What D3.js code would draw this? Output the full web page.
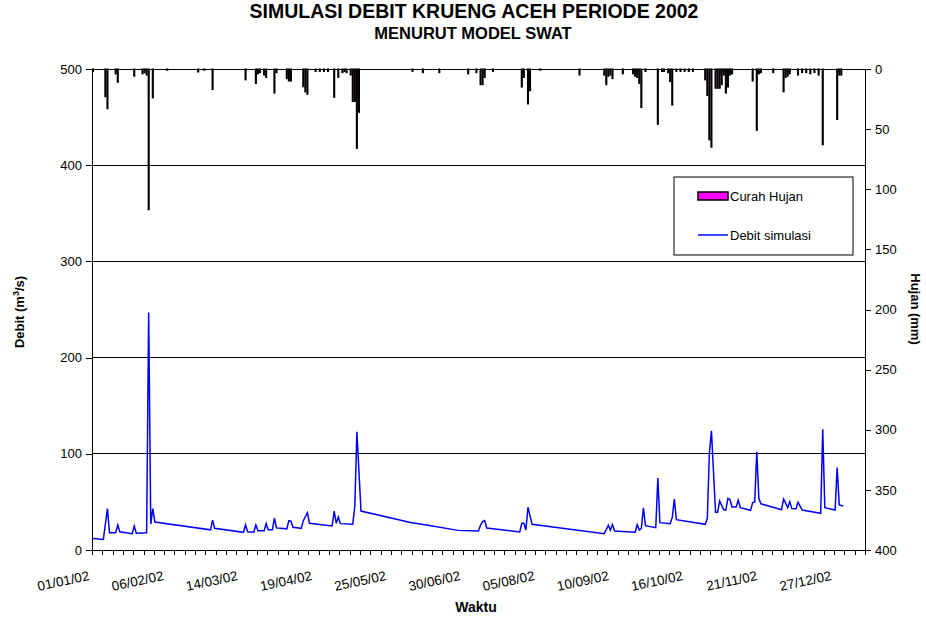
<!DOCTYPE html>
<html>
<head>
<meta charset="utf-8">
<script src="https://cdn.jsdelivr.net/npm/d3@7"></script>
<style>
  body { margin: 0; background: #fff; }
  svg text { font-family: "Liberation Sans", Arial, sans-serif; fill: #000; }
</style>
</head>
<body>
<svg id="chart" width="926" height="620"></svg>
<script>
// simulated discharge (m3/s), breakpoints: day index from 01/01/02
var debitDay = [0, 5, 7, 8, 11, 12, 13, 19, 20, 21, 26, 27, 28, 29, 30, 57, 58, 59,
  73, 74, 75, 78, 79, 80, 83, 84, 85, 87, 88, 89, 94, 95, 96, 97, 101, 102, 104, 105,
  116, 117, 118, 119, 120, 126, 127, 128, 130, 154, 164, 177, 187, 188, 189, 190, 191,
  207, 208, 209, 210, 211, 213, 248, 250, 251, 252, 253, 263, 264, 265, 266, 267, 268,
  273, 274, 275, 280, 281, 282, 283, 297, 298, 299, 300, 302, 303, 304, 306, 307, 308,
  309, 310, 312, 313, 314, 319, 320, 321, 322, 323, 324, 334, 335, 337, 338, 339, 341,
  342, 344, 353, 354, 355, 360, 361, 362, 364];
var debitValue = [12, 11, 43, 18, 18, 26, 19, 17, 25, 17.5, 18, 247, 27, 43, 29, 21, 31, 22.5,
  18.4, 26, 19, 18.4, 26, 20, 20, 27.4, 21, 21, 33, 23, 22, 30.5, 30, 23.6, 22.5, 30.5, 38.8, 27.7,
  25, 40.5, 27.7, 34.3, 27.4, 26.7, 45.7, 123, 40.5, 28.7, 25.3, 20.4, 19.7, 26, 29.5, 30.5, 22.9,
  18.7, 27.7, 27.7, 20.8, 44.4, 26.7, 17, 25.7, 20.5, 26.4, 19.7, 18.4, 26.4, 20.8, 22.5, 43.7, 25.3,
  23.2, 74.8, 28.4, 27.4, 33.9, 53, 31.5, 26.7, 33, 100.5, 124, 39.2, 39.2, 51, 41.6, 41.6, 53.7,
  52.5, 44.7, 44.7, 51.7, 44, 41.3, 49.2, 50, 102, 53.7, 48, 41.9, 53, 44, 50.2, 43, 42.8,
  49.6, 41.6, 38.1, 125.5, 44, 41.6, 85.6, 46.8, 45.7];

// daily rainfall (mm), only the days with rain
var hujanDay = [0, 6, 7, 11, 12, 20, 24, 25, 26, 27, 29, 36, 51, 54, 58, 74, 79, 80, 81, 83, 84,
  88, 89, 94, 95, 96, 102, 103, 104, 108, 110, 112, 114, 117, 119, 121, 122, 123, 125, 126, 127,
  128, 129, 155, 160, 168, 182, 186, 188, 189, 190, 194, 208, 209, 211, 212, 217, 236, 248, 249,
  250, 251, 252, 257, 262, 263, 264, 265, 266, 268, 274, 276, 277, 279, 280, 281, 283, 285, 287,
  289, 291, 297, 298, 299, 300, 302, 303, 304, 305, 306, 307, 308, 309, 310, 320, 322, 323, 324,
  330, 335, 336, 337, 338, 342, 344, 346, 348, 350, 352, 354, 361, 362, 363];
var hujanValue = [2, 23, 33, 4, 11, 6, 4, 3, 5, 117, 24, 1, 2.5, 1, 17, 9, 12, 4, 3, 5, 7,
  20, 3, 8, 10, 10, 14.7, 19, 21, 2, 2, 2, 2, 23.5, 7, 3, 2, 3, 5, 27, 27,
  66, 36, 2, 3, 3, 4, 3, 13, 13, 7, 2, 15, 7, 29, 18, 1, 5, 5, 13,
  6, 5, 8, 4, 4, 6, 7, 12, 32, 2, 46, 2, 2, 3, 10.5, 30, 2, 2, 2,
  2, 2, 9, 22, 59, 65, 16, 16, 16, 13, 5, 20, 15, 5, 4, 10, 51, 4, 3,
  3, 19, 7, 6, 4, 5, 3, 3, 4, 3, 5, 63, 42, 5, 5];

var dateLabels = ["01/01/02", "06/02/02", "14/03/02", "19/04/02", "25/05/02", "30/06/02",
  "05/08/02", "10/09/02", "16/10/02", "21/11/02", "27/12/02"];
var labelEvery = 36;
var debitTicks = [0, 100, 200, 300, 400, 500];
var hujanTicks = [0, 50, 100, 150, 200, 250, 300, 350, 400];

var plotLeft = 92, plotRight = 865, plotTop = 69, plotBottom = 550;
var svg = d3.select("#chart");

var x = d3.scaleLinear().domain([0, 375]).range([plotLeft, plotRight]);
var yL = d3.scaleLinear().domain([0, 500]).range([plotBottom, plotTop]);
var yR = d3.scaleLinear().domain([0, 400]).range([plotTop, plotBottom]);

// titles
svg.append("text").attr("x", 474).attr("y", 18).attr("text-anchor", "middle")
  .style("font-size", "19.5px").style("font-weight", "bold")
  .text("SIMULASI DEBIT KRUENG ACEH PERIODE 2002");
svg.append("text").attr("x", 473).attr("y", 39).attr("text-anchor", "middle")
  .style("font-size", "16.5px").style("font-weight", "bold")
  .text("MENURUT MODEL SWAT");

// gridlines
svg.append("g").selectAll("line").data(debitTicks.slice(1)).enter().append("line")
  .attr("x1", plotLeft).attr("x2", plotRight)
  .attr("y1", function (d) { return yL(d); }).attr("y2", function (d) { return yL(d); })
  .attr("stroke", "#000").attr("stroke-width", 1).attr("shape-rendering", "crispEdges");

// rain bars hanging from the top (so thin that only the black border shows)
svg.append("g").selectAll("rect").data(hujanDay).enter().append("rect")
  .attr("x", function (d) { return x(d + 0.5) - 0.5; })
  .attr("y", plotTop)
  .attr("width", 1)
  .attr("height", function (d, i) { return yR(hujanValue[i]) - plotTop; })
  .attr("fill", "#ff00ff").attr("stroke", "#000").attr("stroke-width", 1.1);

// discharge line
var line = d3.line()
  .x(function (d, i) { return x(d + 0.5); })
  .y(function (d, i) { return yL(debitValue[i]); });
svg.append("path").datum(debitDay).attr("d", line)
  .attr("fill", "none").attr("stroke", "#0000ff").attr("stroke-width", 1.5);

// axes
var axL = svg.append("g").attr("transform", "translate(" + plotLeft + ",0)")
  .call(d3.axisLeft(yL).tickValues(debitTicks).tickSize(6).tickSizeOuter(0).tickPadding(4));
var axR = svg.append("g").attr("transform", "translate(" + plotRight + ",0)")
  .call(d3.axisRight(yR).tickValues(hujanTicks).tickSize(6).tickSizeOuter(0).tickPadding(4));
var axB = svg.append("g").attr("transform", "translate(0," + plotBottom + ")")
  .call(d3.axisBottom(x).tickValues(d3.range(0, 376, 5)).tickFormat("").tickSize(5).tickSizeOuter(0));
[axL, axR, axB].forEach(function (g) {
  g.selectAll("path, line").attr("stroke", "#000").attr("shape-rendering", "crispEdges");
  g.selectAll("text").style("font-size", "13px").attr("fill", "#000");
});

// date labels, slanted
svg.append("g").selectAll("text").data(dateLabels).enter().append("text")
  .attr("transform", function (d, i) {
    return "translate(" + (x(i * labelEvery + 0.5) - 3) + ",580) rotate(-12)";
  })
  .attr("text-anchor", "end")
  .style("font-size", "13.5px")
  .text(function (d) { return d; });

// axis titles
var tL = svg.append("text").attr("transform", "translate(24,312) rotate(-90)")
  .attr("text-anchor", "middle").style("font-size", "13px").style("font-weight", "bold");
tL.append("tspan").text("Debit (m");
tL.append("tspan").attr("dy", -5).style("font-size", "9px").text("3");
tL.append("tspan").attr("dy", 5).text("/s)");

svg.append("text").attr("transform", "translate(911,309) rotate(90)")
  .attr("text-anchor", "middle").style("font-size", "13px").style("font-weight", "bold")
  .text("Hujan (mm)");

svg.append("text").attr("x", 476).attr("y", 612).attr("text-anchor", "middle")
  .style("font-size", "14px").style("font-weight", "bold").text("Waktu");

// legend
var lg = svg.append("g");
lg.append("rect").attr("x", 674).attr("y", 177).attr("width", 179).attr("height", 78)
  .attr("fill", "#fff").attr("stroke", "#000").attr("stroke-width", 1);
lg.append("rect").attr("x", 698).attr("y", 192).attr("width", 30).attr("height", 8)
  .attr("fill", "#ff00ff").attr("stroke", "#000").attr("stroke-width", 1.5);
lg.append("text").attr("x", 730).attr("y", 201).style("font-size", "13px").text("Curah Hujan");
lg.append("line").attr("x1", 698).attr("x2", 728).attr("y1", 235).attr("y2", 235)
  .attr("stroke", "#0000ff").attr("stroke-width", 1.5);
lg.append("text").attr("x", 730).attr("y", 240).style("font-size", "13px").text("Debit simulasi");
</script>
</body>
</html>
